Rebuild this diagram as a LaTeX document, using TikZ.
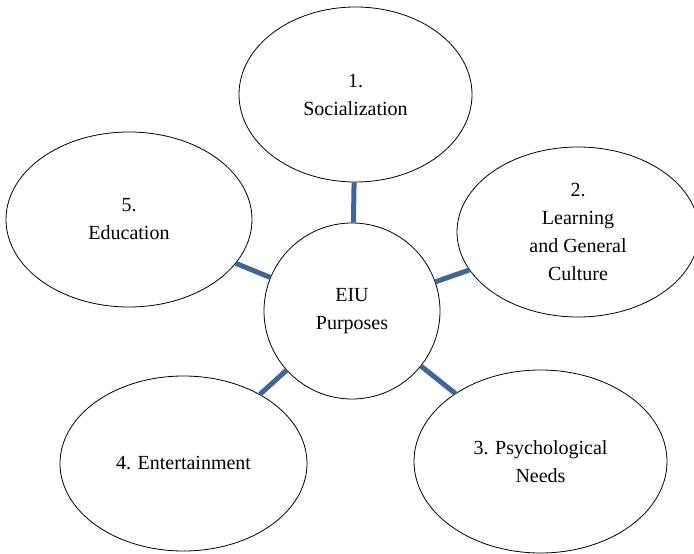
\documentclass[tikz,border=0pt]{standalone}
\usepackage{fontspec}
\setmainfont{Liberation Serif}
\usetikzlibrary{shapes.geometric}
\definecolor{linkblue}{RGB}{62,102,152}
\tikzset{
  bubble/.style={ellipse, draw=black, line width=0.8pt, fill=white, inner sep=0pt, align=center, font=\fontsize{20}{28}\selectfont},
  hub/.style={circle, draw=black, line width=0.8pt, fill=white, inner sep=0pt, align=center, minimum size=176pt, font=\fontsize{20}{28}\selectfont},
  link/.style={draw=linkblue, line width=5pt}
}
\begin{document}
\begin{tikzpicture}[x=1pt,y=-1pt]
\useasboundingbox (0,0) rectangle (694,554);
\node[hub] (c) at (352,311) {EIU\\Purposes};
\node[bubble, minimum width=233pt, minimum height=175pt] (e1) at (355.5,94.5) {1.\\Socialization};
\node[bubble, minimum width=242pt, minimum height=170pt] (e2) at (578,232) {2.\\Learning\\and General\\Culture};
\node[bubble, minimum width=253pt, minimum height=183pt] (e3) at (540.5,461.5) {3. Psychological\\Needs};
\node[bubble, minimum width=247pt, minimum height=175pt] (e4) at (183.5,463.5) {4. Entertainment};
\node[bubble, minimum width=246pt, minimum height=175pt] (e5) at (129,219.5) {5.\\Education};
\draw[link] (c) -- (e1);
\draw[link] (c) -- (e2);
\draw[link] (c) -- (e3);
\draw[link] (c) -- (e4);
\draw[link] (c) -- (e5);
\end{tikzpicture}
\end{document}
